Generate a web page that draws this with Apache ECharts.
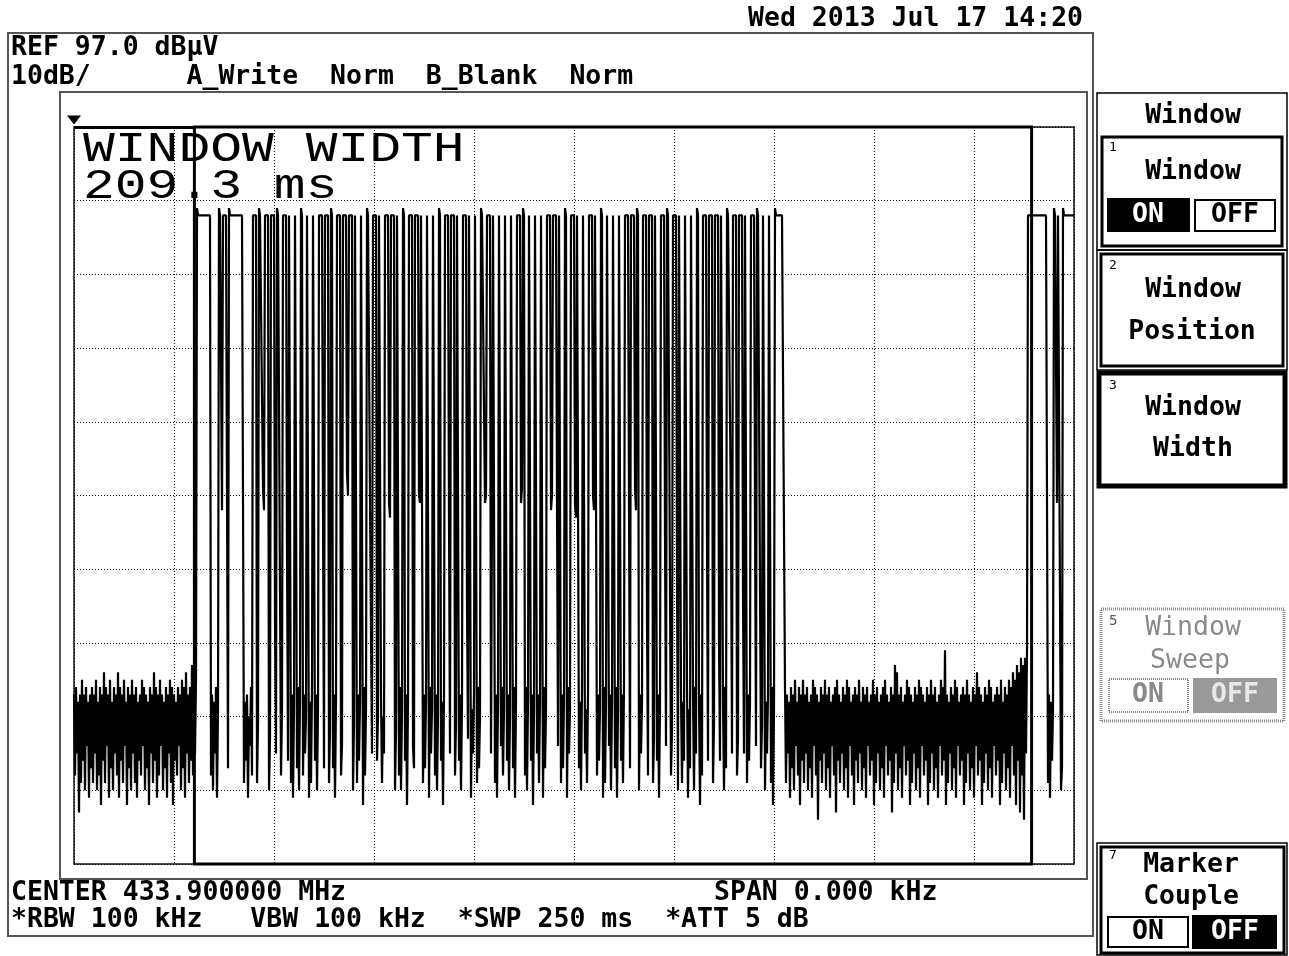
<!DOCTYPE html>
<html><head><meta charset="utf-8">
<script src="https://cdn.jsdelivr.net/npm/echarts@6/dist/echarts.min.js"></script>
<style>html,body{margin:0;padding:0;background:#fff;}#c{width:1289px;height:956px;}</style>
</head><body><div id="c"></div>
<script>
// ---- instrument settings ----
const refLevel = 97.0;        // dBµV, top of graticule
const dbPerDiv = 10;
const sweepMs = 250;
const sampleMs = 0.25;        // 1001 trace points over the sweep
const windowStartMs = 30.1;
const windowWidthMs = 209.3;

// ---- trace values, dBµV ----
const noiseLeft = [
 20,9, 21,12, 19,4, 20,8, 22,11, 20,7, 21,13, 19,6, 20,10, 21,8,
 20,12, 22,7, 19,9, 21,5, 20,11, 23,8, 21,13, 20,6, 22,10, 19,7,
 21,12, 20,9, 23,6, 21,11, 20,8, 22,13, 19,5, 21,10, 20,7, 22,12,
 20,8, 21,6, 19,11, 20,9, 22,13, 21,7, 20,10, 19,5, 21,12, 20,8,
 23,11, 21,6, 20,9, 22,13, 20,7, 19,10, 21,6, 20,12, 22,8, 21,5,
 20,11, 19,9, 21,13, 20,7, 22,10, 21,6, 23,12, 20,8, 21,11, 24,9,
 20,12,22
];
const burst = [
 86,85,85,85,85,85,85,85,85,85,85,85,85,85,
 9,20,7,19,12,21,6,18,
 86,85,85,45,85,85,85,85,85,10,
 86,85,85,85,85,85,85,85,85,85,85,85,85,85,85,
 8,19,11,20,6,17,13,21,9,
 85,85,85,85,8,16,  86,85,85,85,48,45,  85,85,85,85,7,14,  85,85,85,85,30,12,  86,85,85,85,9,18,  85,85,85,85,40,11,
 85,85,8,20,6,18,  85,85,10,21,7,19,  86,85,9,20,12,17,  85,85,6,19,8,21,  85,85,11,20,7,18,
 85,85,85,85,45,10,  85,85,85,85,8,15,  86,85,10,20,6,19,  85,85,85,85,9,13,  85,85,85,85,50,47,  85,85,85,85,7,16,
 85,85,8,20,11,19,  85,85,5,21,9,18,  86,85,85,85,28,12,  85,85,85,85,11,17,  85,85,20,8,17,12,
 85,85,85,85,46,44,  85,85,85,85,7,15,  85,85,9,21,7,18,  86,85,11,20,5,19,  85,85,85,85,13,10,  85,85,85,85,47,46,
 85,85,8,20,10,19,  85,85,6,21,12,18,  85,85,9,20,7,17,  86,85,11,19,5,20,
 85,85,85,85,44,12,  85,85,85,85,9,16,  85,85,11,20,7,19,  85,85,85,85,32,14,  85,85,6,18,12,20,  85,85,8,21,10,17,
 86,85,85,85,46,47,  85,85,85,85,12,45,
 85,85,8,20,6,19,  85,85,13,21,9,18,  85,85,11,20,7,17,  85,85,10,21,6,19,
 85,85,85,85,46,48,
 86,85,9,21,7,19,  85,85,11,20,5,18,  85,85,12,20,8,19,  85,85,6,21,10,18,
 85,85,85,85,45,47,  85,85,85,85,46,13,  85,85,8,20,10,19,  86,85,6,21,12,18,  85,85,85,85,46,44,
 85,85,10,19,7,21,  85,85,12,18,8,20,  85,85,85,85,47,45,
 85,85,9,20,11,18,  86,85,6,21,8,19,  85,85,13,20,7,19,  85,85,10,21,6,18,  85,85,11,20,8,21,
 85,85,85,85,46,10,  85,85,85,85,48,45,  86,85,7,20,12,19,  85,85,85,85,30,9,  85,85,85,85,8,14,  85,85,11,20,6,18,
 85,85,85,85,42,13,  86,85,85,85,9,15,  85,85,85,85,36,7,
 85,85,20,8,19,11,  85,85,21,6,18,10,  85,85,20,7,21,12,  86,85,19,5,20,9,
 85,85,85,85,40,11,  85,85,85,85,8,16,  85,85,85,85,27,11,  85,85,19,7,21,10,
 86,85,85,85,44,12,  85,85,85,85,9,14,  85,85,85,85,33,12,  85,85,8,20,11,19,
 85,85,85,85,45,13,  86,85,85,85,10,16,  85,85,7,19,12,20,  85,85,8,21,5,18,
 86,85,85,85,85,85,85,85,85,85
];
const noiseRight = [
 21,8, 20,12, 19,6, 21,10, 20,7, 22,13, 19,9, 21,5, 20,11, 22,8,
 20,12, 21,7, 19,10, 20,6, 22,13, 21,9, 20,3, 19,11, 21,8, 20,12,
 22,7, 20,10, 21,6, 19,13, 20,9, 21,4, 22,11, 20,8, 19,12, 21,7,
 20,10, 22,6, 21,13, 19,9, 20,5, 21,11, 20,8, 22,12, 19,7, 21,10,
 20,6, 21,13, 19,9, 20,11, 22,5, 20,8, 21,12, 19,7, 20,10, 21,6,
 22,13, 20,9, 19,11, 21,4, 20,8, 24,12, 23,7, 20,10, 21,6, 19,13,
 20,9, 22,11, 21,5, 20,8, 19,12, 21,7, 20,10, 22,6, 21,13, 20,9,
 19,11, 21,5, 20,8, 22,12, 20,7, 21,10, 19,6, 20,13, 22,9, 21,11,
 26,5, 20,8, 19,12, 21,7, 20,10, 22,6, 21,13, 19,9, 20,11, 21,5,
 20,8, 22,12, 20,7, 19,10, 21,6, 20,13, 23,9, 21,11, 20,5, 19,8,
 21,12, 20,7, 22,10, 21,6, 19,13, 20,9, 21,11, 20,5, 22,8, 19,12,
 21,7, 20,10, 22,6, 21,13, 23,9, 22,5, 24,11, 23,4, 25,9, 24,3,
 25,12,26
];
const burstTail = [
 85,85,85,85,85,85,85,85,85,85,85,85,85,85,85,85,85,85,85,85,
 8,20,6,19,11,18,
 86,85,85, 46, 85,85,85, 7,10,
 86,85,85,85,85,85,85,85,85,85,85,85
];
const segmentStartMs = [0, 30.75, 177.75, 238.5];

// ---- screen texts ----
const dateText = 'Wed 2013 Jul 17 14:20';
const headerLines = ['REF 97.0 dBµV', '10dB/      A_Write  Norm  B_Blank  Norm'];
const centerText = 'CENTER 433.900000 MHz';
const spanText = 'SPAN 0.000 kHz';
const bwText = '*RBW 100 kHz   VBW 100 kHz  *SWP 250 ms  *ATT 5 dB';
const bigTexts = ['WINDOW WIDTH', '209.3 ms'];

// ---- build trace ----
function place(arr, t0){ return arr.map((v,k)=>[t0 + k*sampleMs, v]); }
const traceData = [].concat(
  place(noiseLeft, segmentStartMs[0]),
  place(burst, segmentStartMs[1]),
  place(noiseRight, segmentStartMs[2]),
  place(burstTail, segmentStartMs[3])
);

const F = '"DejaVu Sans Mono", monospace';
function txt(x,y,s,o){ o=o||{}; const e = {type:'text', x:x, y:y, silent:true, z:20,
  style:{text:s, font:(o.w||'bold')+' '+(o.size||26.5)+'px '+(o.fam||F), fill:o.fill||'#000',
  align:o.align||'left', verticalAlign:'middle'}};
  if (o.sy) { e.scaleY = o.sy; } if (o.sx) { e.scaleX = o.sx; }
  return e; }
function box(x,y,w,h,o){ o=o||{}; return {type:'rect', shape:{x:x,y:y,width:w,height:h}, silent:true, z:o.z||10,
  style:{fill:o.fill||'none', stroke:o.stroke||'none', lineWidth:o.lw||0, lineDash:o.dash||null}}; }

const G = '#8a8a8a';
const BIG = {fam:'"Liberation Mono", monospace', size:53, w:'normal', sy:0.8};
const graphic = [
  box(8,33,1085,903,{stroke:'#555',lw:2}),
  box(60,92,1027,787,{stroke:'#555',lw:2}),
  txt(748,19,dateText),
  txt(11,48,headerLines[0]),
  txt(11,77,headerLines[1]),
  txt(11,893,centerText),
  txt(714,893,spanText),
  txt(11,920,bwText),
  txt(83,149.3,bigTexts[0],BIG),
  txt(83,186.8,bigTexts[1],BIG),
  // soft-key panel
  box(1097,93,190,157,{stroke:'#000',lw:1.5}),
  txt(1193,116,'Window',{align:'center'}),
  box(1102,137,180,109,{stroke:'#000',lw:3}),
  txt(1109,148,'1',{size:13,w:'normal'}),
  txt(1193,172,'Window',{align:'center'}),
  box(1107,198,83,34,{fill:'#000'}),
  txt(1148,215,'ON',{align:'center',fill:'#fff'}),
  box(1195,200,80,31,{stroke:'#000',lw:2}),
  txt(1235,215,'OFF',{align:'center'}),
  box(1097,250,190,120,{stroke:'#000',lw:1.5}),
  box(1101,254,182,112,{stroke:'#000',lw:3}),
  txt(1109,266,'2',{size:13,w:'normal'}),
  txt(1193,290,'Window',{align:'center'}),
  txt(1192,332,'Position',{align:'center'}),
  box(1099,373,186,113,{stroke:'#000',lw:5}),
  txt(1109,386,'3',{size:13,w:'normal'}),
  txt(1193,408,'Window',{align:'center'}),
  txt(1193,449,'Width',{align:'center'}),
  box(1101,609,183,112,{stroke:G,lw:3,dash:[1,1]}),
  txt(1109,621,'5',{size:14,fill:'#555',w:'normal'}),
  txt(1193,628,'Window',{align:'center',fill:G,w:'normal'}),
  txt(1190,661,'Sweep',{align:'center',fill:G,w:'normal'}),
  box(1109,679,79,33,{stroke:G,lw:2,dash:[1,1]}),
  txt(1148,695,'ON',{align:'center',fill:G}),
  box(1193,678,84,35,{fill:'#9a9a9a'}),
  txt(1235,695,'OFF',{align:'center',fill:'#e8e8e8'}),
  box(1097,843,190,112,{stroke:'#000',lw:1.5}),
  box(1101,847,183,106,{stroke:'#000',lw:3}),
  txt(1109,856,'7',{size:13,w:'normal'}),
  txt(1191,865,'Marker',{align:'center'}),
  txt(1191,897,'Couple',{align:'center'}),
  box(1108,917,80,30,{stroke:'#000',lw:2}),
  txt(1148,932,'ON',{align:'center'}),
  box(1192,915,85,34,{fill:'#000'}),
  txt(1235,932,'OFF',{align:'center',fill:'#fff'})
];

const dotted = {color:'#000', width:1, type:[1,2]};
const option = {
  animation:false,
  backgroundColor:'#fff',
  grid:{left:74, top:127, width:1000, height:737, show:true, borderColor:'#111', borderWidth:1.5, backgroundColor:'transparent'},
  xAxis:{type:'value', min:0, max:sweepMs, interval:sweepMs/10, axisLine:{show:false}, axisTick:{show:false}, axisLabel:{show:false},
    splitLine:{show:true, lineStyle:dotted}},
  yAxis:[
    {type:'value', min:0, max:10, interval:1, axisLine:{show:false}, axisTick:{show:false}, axisLabel:{show:false},
     splitLine:{show:true, lineStyle:dotted}},
    {type:'value', min:refLevel-10*dbPerDiv, max:refLevel, show:false, splitLine:{show:false}}
  ],
  series:[{
    type:'line', yAxisIndex:1, data:traceData, showSymbol:false, symbol:'none', sampling:null,
    silent:true, emphasis:{disabled:true}, lineStyle:{color:'#000', width:2.2}, z:5,
    markArea:{silent:true, label:{show:false}, itemStyle:{color:'rgba(0,0,0,0)', borderColor:'#000', borderWidth:3},
      data:[[{xAxis:windowStartMs, yAxis:refLevel-10*dbPerDiv},{xAxis:windowStartMs+windowWidthMs, yAxis:refLevel}]]},
    markLine:{silent:true, symbol:'none', label:{show:false}, lineStyle:{color:'#000', width:3, type:'solid'},
      data:[[{coord:[0,refLevel]},{coord:[windowStartMs,refLevel]}]]},
    markPoint:{silent:true, symbol:'triangle', symbolSize:[14,9], symbolRotate:180, symbolOffset:[0,-7],
      itemStyle:{color:'#000'}, label:{show:false}, data:[{coord:[0,refLevel]}]}
  }],
  graphic:graphic
};
const chart = echarts.init(document.getElementById('c'), null, {renderer:'canvas', width:1289, height:956});
chart.setOption(option);
</script></body></html>
